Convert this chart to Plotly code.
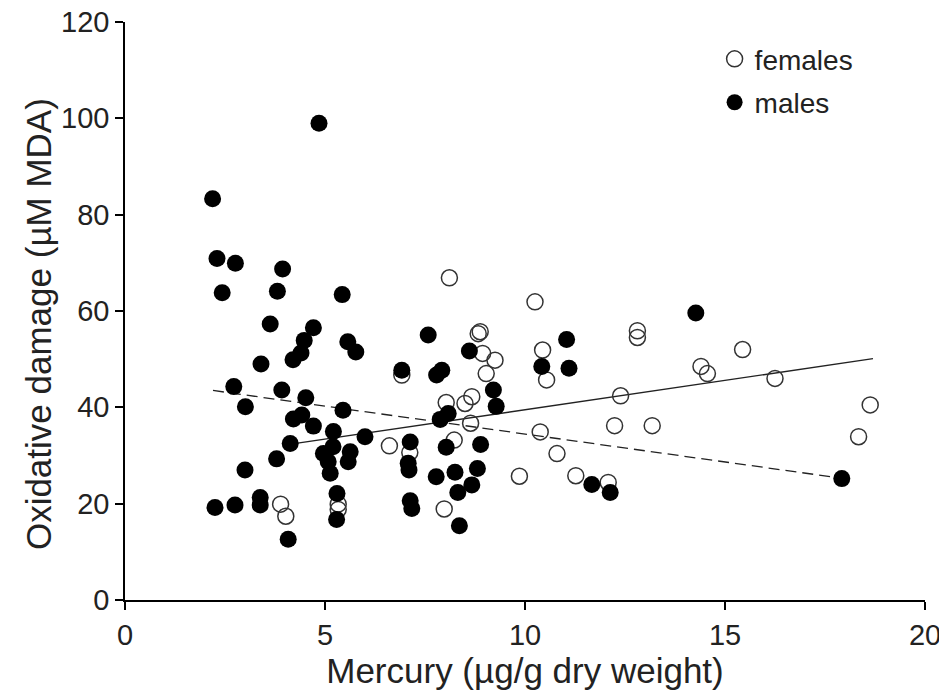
import plotly.graph_objects as go

# Males (filled circles)
male_x = [4.85, 2.19, 2.30, 2.76, 3.94, 2.43, 3.81, 5.43, 3.63, 4.71, 4.48, 4.40, 4.20, 5.57, 5.77,
          3.40, 2.72, 3.92, 3.01, 4.52, 5.45, 4.21, 4.42, 4.71, 5.21, 6.00, 4.13, 3.79, 3.00, 5.20,
          4.96, 5.63, 5.58, 5.08, 5.13, 2.25, 2.75, 3.38, 3.38, 4.08, 5.30, 5.29, 7.58, 8.61, 6.92,
          7.92, 7.79, 10.42, 9.21, 9.28, 8.08, 7.88, 7.13, 8.03, 8.89, 7.08, 7.10, 7.78, 8.25, 8.81,
          8.67, 8.32, 7.13, 7.17, 8.36, 14.27, 11.04, 11.10, 11.67, 12.13, 17.92]
male_y = [99.0, 83.3, 70.9, 69.9, 68.7, 63.8, 64.1, 63.4, 57.3, 56.5, 53.9, 51.3, 49.9, 53.6, 51.5,
          49.0, 44.3, 43.6, 40.1, 42.0, 39.4, 37.6, 38.4, 36.1, 35.0, 33.9, 32.5, 29.3, 27.0, 31.8,
          30.4, 30.8, 28.7, 28.7, 26.3, 19.2, 19.7, 21.3, 19.7, 12.6, 22.1, 16.7, 55.0, 51.7, 47.7,
          47.7, 46.7, 48.5, 43.6, 40.2, 38.7, 37.5, 32.8, 31.7, 32.3, 28.4, 27.0, 25.6, 26.5, 27.3,
          23.9, 22.3, 20.6, 19.0, 15.4, 59.6, 54.1, 48.1, 24.0, 22.3, 25.2]

# Females (open circles)
female_x = [3.89, 4.02, 5.33, 5.33, 8.11, 10.25, 8.88, 8.83, 8.94, 9.25, 9.03, 6.92, 10.44, 10.54,
            8.67, 8.50, 8.03, 8.64, 10.38, 6.61, 8.23, 7.12, 10.80, 7.98, 9.86, 12.81, 12.81, 15.44,
            14.40, 14.56, 16.25, 12.39, 18.63, 18.34, 12.24, 13.18, 11.27, 12.08]
female_y = [19.9, 17.4, 19.9, 18.8, 66.9, 61.9, 55.7, 55.3, 51.2, 49.8, 47.0, 46.7, 51.9, 45.7,
            42.2, 40.8, 41.0, 36.7, 34.9, 32.0, 33.2, 30.6, 30.4, 18.9, 25.7, 55.9, 54.5, 52.0,
            48.5, 47.0, 46.0, 42.4, 40.5, 33.9, 36.2, 36.2, 25.8, 24.4]

# Regression line endpoints
female_fit_x = [4.1, 18.7]
female_fit_y = [32.3, 50.1]
male_fit_x = [2.2, 17.9]
male_fit_y = [43.5, 25.3]

x_ticks = [0, 5, 10, 15, 20]
y_ticks = [0, 20, 40, 60, 80, 100, 120]

FONT = "Liberation Sans, Arial, sans-serif"

fig = go.Figure()
fig.add_trace(go.Scatter(x=female_fit_x, y=female_fit_y, mode="lines",
                         line=dict(color="#222", width=1.3), showlegend=False, hoverinfo="skip"))
fig.add_trace(go.Scatter(x=male_fit_x, y=male_fit_y, mode="lines",
                         line=dict(color="#222", width=1.3, dash="11px,6px"), showlegend=False,
                         hoverinfo="skip"))
fig.add_trace(go.Scatter(x=female_x, y=female_y, mode="markers", name="females",
                         legendgroup="f",
                         marker=dict(symbol="circle-open", size=16, color="#333",
                                     line=dict(width=1.5, color="#333"))))
fig.add_trace(go.Scatter(x=male_x, y=male_y, mode="markers", name="males",
                         legendgroup="m",
                         marker=dict(symbol="circle", size=17, color="black",
                                     line=dict(width=0))))

axis_common = dict(showgrid=False, zeroline=False, showline=True, linecolor="black",
                   linewidth=1.5, ticks="outside", ticklen=8, tickwidth=1.5, tickcolor="black",
                   automargin=False, ticklabeloverflow="allow",
                   tickfont=dict(family=FONT, size=29, color="#222"))

fig.update_layout(
    width=947, height=698,
    margin=dict(l=117, r=30, t=14, b=106),
    paper_bgcolor="white", plot_bgcolor="white",
    showlegend=True,
    legend=dict(x=0.737, y=0.979, xanchor="left", yanchor="top", bgcolor="rgba(0,0,0,0)",
                font=dict(family=FONT, size=28, color="#222"), tracegroupgap=4,
                traceorder="grouped"),
    xaxis=dict(range=[0, 20], tickvals=x_ticks, ticktext=[str(v) for v in x_ticks],
               title=dict(text="Mercury (µg/g dry weight)", font=dict(family=FONT, size=35, color="#222"),
                          standoff=4),
               **axis_common),
    yaxis=dict(range=[0, 120], tickvals=y_ticks, ticktext=[str(v) for v in y_ticks],
               **axis_common),
    annotations=[dict(text="Oxidative damage (µM MDA)", textangle=-90, xref="paper", yref="paper",
                      x=-0.109, y=0.477, xanchor="center", yanchor="middle", showarrow=False,
                      font=dict(family=FONT, size=35, color="#222"))],
)

fig.write_html("out.html")
